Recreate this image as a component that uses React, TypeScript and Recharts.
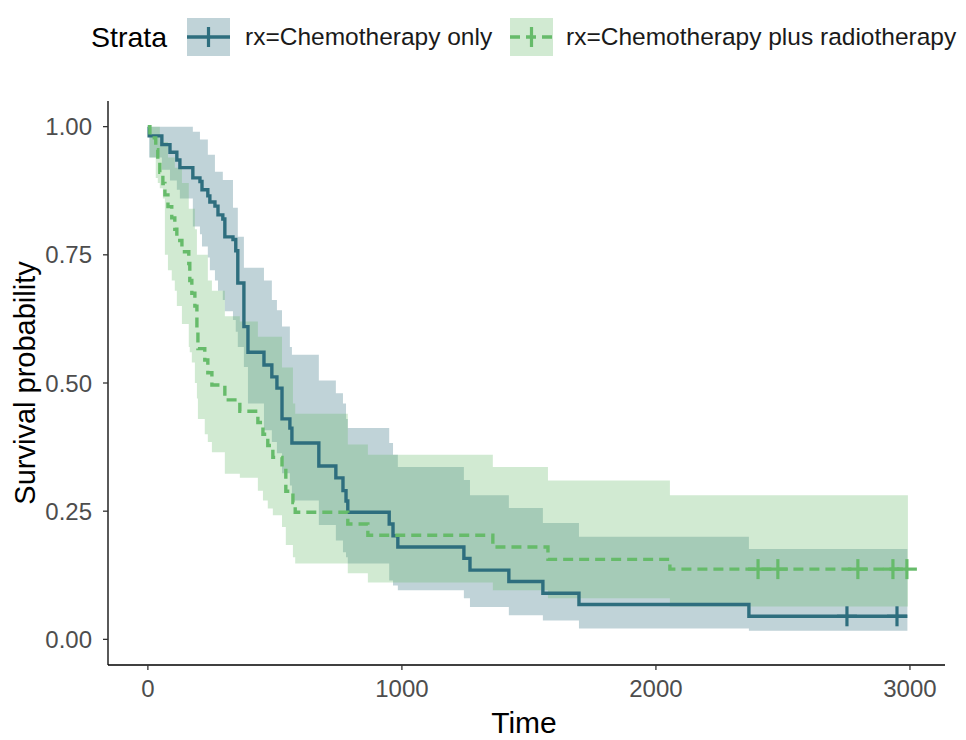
import React from 'react';
import { ComposedChart, Area, Line, Scatter, XAxis, YAxis } from 'recharts';

// rx = Chemotherapy only
const chemoTime = [0, 5, 55, 87, 114, 126, 177, 205, 213, 236, 244, 264, 276, 295, 303, 335, 346, 354, 378, 394, 457, 488, 508, 528, 559, 567, 673, 740, 768, 780, 787, 950, 965, 984, 1244, 1268, 1421, 1555, 1697, 2366, 2990];
const chemoSurv = [1, 0.982, 0.965, 0.95, 0.935, 0.92, 0.9, 0.893, 0.877, 0.865, 0.853, 0.845, 0.828, 0.82, 0.785, 0.78, 0.758, 0.695, 0.61, 0.56, 0.535, 0.512, 0.49, 0.43, 0.412, 0.383, 0.338, 0.315, 0.29, 0.27, 0.248, 0.225, 0.202, 0.18, 0.158, 0.135, 0.113, 0.09, 0.068, 0.045, 0.045];
const chemoUpper = [1, 1, 1, 1, 1, 1, 0.99, 0.975, 0.975, 0.945, 0.945, 0.912, 0.912, 0.896, 0.896, 0.842, 0.842, 0.785, 0.725, 0.725, 0.7, 0.662, 0.642, 0.61, 0.57, 0.555, 0.505, 0.48, 0.46, 0.43, 0.412, 0.383, 0.36, 0.336, 0.311, 0.281, 0.256, 0.227, 0.2, 0.176, 0.176];
const chemoLower = [1, 0.94, 0.916, 0.895, 0.877, 0.86, 0.805, 0.79, 0.766, 0.745, 0.72, 0.7, 0.68, 0.662, 0.64, 0.623, 0.6, 0.57, 0.531, 0.46, 0.408, 0.385, 0.363, 0.324, 0.3, 0.271, 0.223, 0.193, 0.17, 0.16, 0.148, 0.115, 0.105, 0.096, 0.08, 0.063, 0.047, 0.037, 0.021, 0.017, 0.017];
const chemoCensorTime = [2752, 2949];
const chemoCensorSurv = [0.045, 0.045];

// rx = Chemotherapy plus radiotherapy
const radioTime = [0, 8, 31, 39, 47, 59, 67, 79, 94, 106, 114, 134, 161, 165, 173, 185, 193, 197, 224, 236, 252, 303, 362, 433, 453, 472, 492, 528, 543, 571, 580, 787, 866, 1358, 1575, 2055, 2992];
const radioSurv = [1, 0.978, 0.955, 0.933, 0.911, 0.889, 0.867, 0.844, 0.822, 0.8, 0.778, 0.756, 0.733, 0.7, 0.675, 0.65, 0.6, 0.567, 0.545, 0.52, 0.496, 0.467, 0.445, 0.423, 0.4, 0.378, 0.355, 0.333, 0.289, 0.267, 0.248, 0.225, 0.203, 0.18, 0.156, 0.137, 0.137];
const radioUpper = [1, 1, 1, 1, 0.97, 0.97, 0.97, 0.94, 0.94, 0.92, 0.92, 0.89, 0.84, 0.84, 0.84, 0.8, 0.75, 0.75, 0.75, 0.7, 0.68, 0.63, 0.62, 0.59, 0.59, 0.59, 0.59, 0.53, 0.53, 0.46, 0.44, 0.38, 0.36, 0.336, 0.31, 0.281, 0.281];
const radioLower = [1, 0.94, 0.9, 0.89, 0.88, 0.86, 0.75, 0.72, 0.7, 0.68, 0.65, 0.615, 0.57, 0.56, 0.54, 0.5, 0.47, 0.43, 0.4, 0.385, 0.365, 0.323, 0.315, 0.29, 0.271, 0.255, 0.242, 0.219, 0.184, 0.16, 0.148, 0.129, 0.111, 0.096, 0.08, 0.064, 0.064];
const radioCensorTime = [2402, 2480, 2795, 2933, 2988];
const radioCensorSurv = [0.137, 0.137, 0.137, 0.137, 0.137];

const strataLabels = ['rx=Chemotherapy only', 'rx=Chemotherapy plus radiotherapy'];
const xTicks = [0, 1000, 2000, 3000];
const yTicks = [0, 0.25, 0.5, 0.75, 1];

const TEAL = '#2E6E7E';
const GREEN = '#66BB6A';
const FONT = '"Liberation Sans", Arial, sans-serif';

const rows = (time: number[], surv: number[], up: number[], lo: number[]) =>
  time.map((t, i) => ({ t, surv: surv[i], band: [lo[i], up[i]] }));
const points = (time: number[], surv: number[]) => time.map((t, i) => ({ t, surv: surv[i] }));

const chemoData = rows(chemoTime, chemoSurv, chemoUpper, chemoLower);
const radioData = rows(radioTime, radioSurv, radioUpper, radioLower);
const chemoCensor = points(chemoCensorTime, chemoCensorSurv);
const radioCensor = points(radioCensorTime, radioCensorSurv);

const plus = (color: string) => (props: any) => {
  const { cx, cy } = props;
  return (
    <g stroke={color} strokeWidth={3.2}>
      <line x1={cx - 10} x2={cx + 10} y1={cy} y2={cy} />
      <line x1={cx} x2={cx} y1={cy - 10} y2={cy + 10} />
    </g>
  );
};

const LegendBar = () => (
  <svg width={966} height={70} style={{ position: 'absolute', left: 0, top: 0 }}>
    <text x={91} y={47} fontSize={28.5} fontFamily={FONT} fill="#000">Strata</text>
    <rect x={187} y={18} width={43} height={38} fill={TEAL} fillOpacity={0.3} />
    <line x1={187} x2={230} y1={37} y2={37} stroke={TEAL} strokeWidth={3.4} />
    <line x1={208.5} x2={208.5} y1={27} y2={47} stroke={TEAL} strokeWidth={3.2} />
    <text x={245} y={45} fontSize={24.5} fontFamily={FONT} fill="#1a1a1a">{strataLabels[0]}</text>
    <rect x={510} y={18} width={43} height={38} fill={GREEN} fillOpacity={0.3} />
    <line x1={510} x2={553} y1={37} y2={37} stroke={GREEN} strokeWidth={3.4} strokeDasharray="10 6" />
    <line x1={531.5} x2={531.5} y1={27} y2={47} stroke={GREEN} strokeWidth={3.2} />
    <text x={566} y={45} fontSize={24.5} fontFamily={FONT} fill="#1a1a1a">{strataLabels[1]}</text>
  </svg>
);

const tickStyle = { fontSize: 24, fill: '#4D4D4D', fontFamily: FONT };

export default function App() {
  return (
    <div style={{ position: 'absolute', left: 0, top: 0, width: 966, height: 740, background: '#fff' }}>
      <ComposedChart width={966} height={740} margin={{ top: 101, right: 21, bottom: 15, left: 0 }}>
        <XAxis
          dataKey="t"
          type="number"
          domain={[-157, 3138]}
          ticks={xTicks}
          allowDataOverflow
          height={60}
          tickSize={5}
          tickMargin={10}
          tick={tickStyle}
          axisLine={{ stroke: '#000', strokeWidth: 1.3 }}
          tickLine={{ stroke: '#333', strokeWidth: 1.3 }}
        />
        <YAxis
          type="number"
          domain={[-0.05, 1.05]}
          ticks={yTicks}
          allowDataOverflow
          width={108}
          tickSize={5}
          tickMargin={11}
          tick={tickStyle}
          tickFormatter={(v: number) => v.toFixed(2)}
          axisLine={{ stroke: '#000', strokeWidth: 1.3 }}
          tickLine={{ stroke: '#333', strokeWidth: 1.3 }}
        />
        <Area data={chemoData} dataKey="band" type="stepAfter" fill={TEAL} fillOpacity={0.3} stroke="none" isAnimationActive={false} />
        <Area data={radioData} dataKey="band" type="stepAfter" fill={GREEN} fillOpacity={0.3} stroke="none" isAnimationActive={false} />
        <Line data={chemoData} dataKey="surv" type="stepAfter" stroke={TEAL} strokeWidth={3.4} dot={false} isAnimationActive={false} />
        <Line data={radioData} dataKey="surv" type="stepAfter" stroke={GREEN} strokeWidth={3.4} strokeDasharray="10 6" dot={false} isAnimationActive={false} />
        <Scatter data={chemoCensor} dataKey="surv" shape={plus(TEAL)} isAnimationActive={false} />
        <Scatter data={radioCensor} dataKey="surv" shape={plus(GREEN)} isAnimationActive={false} />
      </ComposedChart>
      <LegendBar />
      <svg width={966} height={740} style={{ position: 'absolute', left: 0, top: 0, pointerEvents: 'none' }}>
        <text x={524} y={733} textAnchor="middle" fontSize={30} fontFamily={FONT} fill="#000">Time</text>
        <text x={35} y={383} textAnchor="middle" fontSize={29} fontFamily={FONT} fill="#000" transform="rotate(-90 35 383)">Survival probability</text>
      </svg>
    </div>
  );
}
